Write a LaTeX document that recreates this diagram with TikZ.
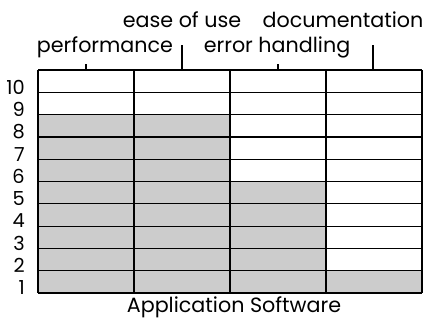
\documentclass[tikz,border=0pt]{standalone}
\usepackage{fontspec}
\setmainfont{Poppins}
\definecolor{stipple}{gray}{0.8}

\begin{document}
\begin{tikzpicture}[x=0.75pt, y=-0.75pt,
    grid/.style={line width=0.9pt},
    bar/.style={fill=stipple},
    tick/.style={line width=0.9pt},
    lbl/.style={font=\fontsize{15.5}{18}\selectfont, inner sep=0pt, anchor=base},
    num/.style={font=\fontsize{14.5}{17}\selectfont, inner sep=0pt, anchor=east}]
    \useasboundingbox (0,0) rectangle (425,322);

    % shaded part of each column
    \fill[bar] (38,114.6) rectangle (230,293);
    \fill[bar] (230,181.5) rectangle (326,293);
    \fill[bar] (326,270.7) rectangle (422,293);

    % the grid
    \foreach \j in {0,...,10}
        \draw[grid] (38,70+22.3*\j) -- (422,70+22.3*\j);
    \foreach \i in {0,...,4}
        \draw[grid] (38+96*\i,70) -- (38+96*\i,293);

    % scale
    \foreach \n in {1,...,10}
        \node[num] (row\n) at (25,310.2-22.3*\n) {\n};

    % column labels
    \node[lbl] (ease) at (182,27) {ease of use};
    \node[lbl] (doc) at (343,27) {documentation};
    \node[lbl] (perf) at (105,52) {performance};
    \node[lbl] (err) at (277,52) {error handling};
    \node[lbl] (title) at (234,312) {Application Software};

    \coordinate (perf-top) at (86,70);   \coordinate (perf-end) at (86,64);
    \coordinate (ease-top) at (182,70);  \coordinate (ease-end) at (182,45);
    \coordinate (err-top) at (278,70);   \coordinate (err-end) at (278,64);
    \coordinate (doc-top) at (373,70);   \coordinate (doc-end) at (373,45);
    \draw[tick] (perf-top) -- (perf-end);
    \draw[tick] (ease-top) -- (ease-end);
    \draw[tick] (err-top) -- (err-end);
    \draw[tick] (doc-top) -- (doc-end);
\end{tikzpicture}
\end{document}
